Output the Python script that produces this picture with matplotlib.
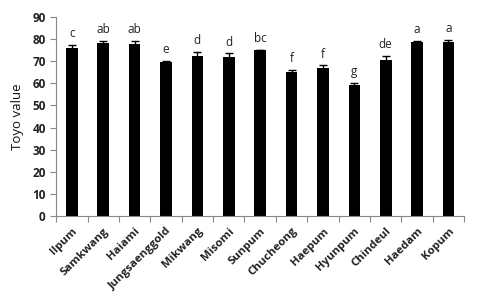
import matplotlib.pyplot as plt
import matplotlib.transforms as mtransforms
import numpy as np

cultivars = ["Ilpum", "Samkwang", "Haiami", "Jungsaenggold", "Mikwang", "Misomi",
             "Sunpum", "Chucheong", "Haepum", "Hyunpum", "Chindeul", "Haedam", "Kopum"]
toyo = [76.2, 78.2, 77.7, 69.5, 72.2, 71.7, 75.1, 65.3, 66.8, 59.4, 70.7, 78.7, 78.5]
err = [1.0, 0.8, 1.5, 0.7, 2.0, 1.8, 0.0, 0.6, 1.3, 0.7, 1.5, 0.3, 1.3]
letters = ["c", "ab", "ab", "e", "d", "d", "bc", "f", "f", "g", "de", "a", "a"]

plt.rcParams['font.family'] = ['Open Sans', 'DejaVu Sans']

fig = plt.figure(figsize=(4.8, 2.98), dpi=100)
ax = fig.add_axes([0.117, 0.275, 0.85, 0.668])

x = np.arange(len(cultivars))
ax.bar(x, toyo, width=0.37, color='black', yerr=err,
       error_kw=dict(ecolor='black', elinewidth=1, capsize=3, capthick=1))
for xi, v, e, t in zip(x, toyo, err, letters):
    ax.text(xi, v + e + 2.2, t, ha='center', va='bottom', fontsize=8.5, color='#222222')

ax.set_xlim(-0.5, len(cultivars) - 0.5)
ax.set_ylim(0, 90)
ax.set_yticks(range(0, 91, 10))
ax.set_xticks(np.arange(len(cultivars) + 1) - 0.5, minor=False)
ax.set_xticklabels([])
ax.set_xticks(x, minor=True)
ax.set_xticklabels(cultivars, minor=True, rotation=45, ha='right',
                   rotation_mode='anchor', fontsize=8.2, fontweight='bold', color='#222222')
shift = mtransforms.ScaledTranslation(4 / 100, 0, fig.dpi_scale_trans)
for lab in ax.get_xticklabels(minor=True):
    lab.set_transform(lab.get_transform() + shift)
ax.tick_params(axis='x', which='minor', length=0, pad=7)
ax.tick_params(axis='x', which='major', length=4, color='#888888')
ax.tick_params(axis='y', length=4, color='#888888', labelsize=8.5, labelcolor='#222222')
for lab in ax.get_yticklabels():
    lab.set_fontweight('bold')
ax.set_ylabel("Toyo value", fontsize=9.5, color='#111111', labelpad=6)

for s in ['top', 'right']:
    ax.spines[s].set_visible(False)
for s in ['left', 'bottom']:
    ax.spines[s].set_color('#888888')

fig.savefig("out.png", dpi=100)
